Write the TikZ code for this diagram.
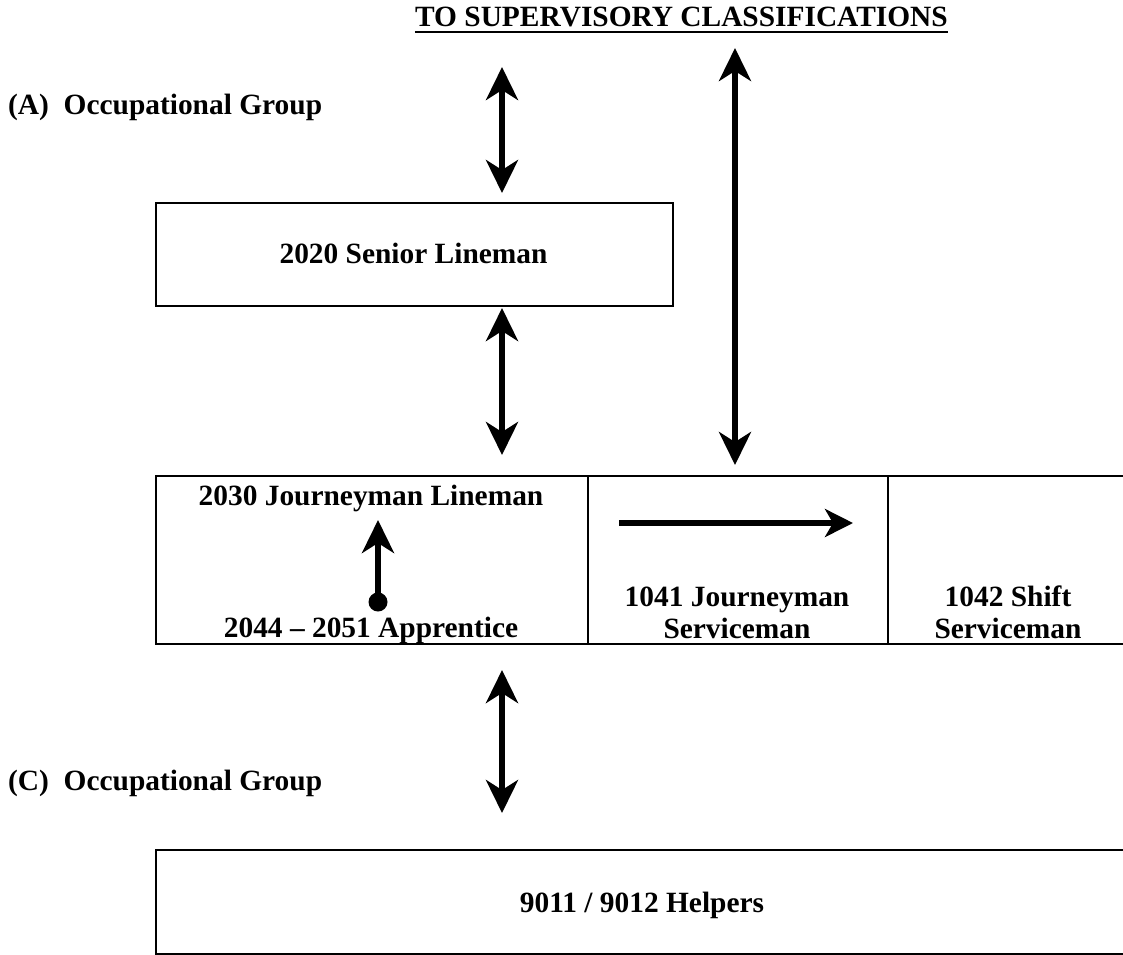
\documentclass[tikz,border=0pt]{standalone}
\usepackage{fontspec}
\setmainfont{Liberation Serif}
\usetikzlibrary{arrows.meta}
\begin{document}
\begin{tikzpicture}[x=1pt,y=-1pt,
  lbl/.style={font=\fontsize{29.4}{34}\selectfont\bfseries, inner sep=0pt, anchor=base},
  boxthick/.style={draw, line width=2pt, inner sep=0pt, anchor=north west},
  boxthin/.style={draw, line width=1.6pt, inner sep=0pt, anchor=north west},
  bighead/.tip={Stealth[length=33pt,width=32pt,inset=10pt]},
  smallhead/.tip={Stealth[length=28pt,width=28pt,inset=8pt]},
  dbl/.style={line width=5.5pt, bighead-bighead},
  sgl/.style={line width=5.5pt, -bighead},
]
\useasboundingbox (0,0) rectangle (1123,954);
\clip (0,0) rectangle (1123,954);

% title
\node[lbl] (title) at (681.5,26) {TO SUPERVISORY CLASSIFICATIONS};
\draw[line width=2.8pt] ([yshift=-6pt]title.base west) -- ([yshift=-6pt]title.base east);

% side labels
\node[lbl, anchor=base west] (grpA) at (8,114) {(A)\ \ Occupational Group};
\node[lbl, anchor=base west] (grpC) at (8,790) {(C)\ \ Occupational Group};

% boxes
\node[boxthick, minimum width=517pt, minimum height=103pt] (senior) at (155,202) {};
\node[lbl] (seniort) at (413.5,263) {2020 Senior Lineman};

\node[boxthin, minimum width=432pt, minimum height=168pt] (jl) at (155,475) {};
\node[boxthin, minimum width=300pt, minimum height=168pt] (js) at (587,475) {};
\node[boxthin, minimum width=260pt, minimum height=168pt] (ss) at (887,475) {};

\node[lbl] (jlt) at (371,505) {2030 Journeyman Lineman};
\node[lbl] (apt) at (371,637) {2044 -- 2051 Apprentice};
\node[lbl] (js1) at (737,606) {1041 Journeyman};
\node[lbl] (js2) at (737,638) {Serviceman};
\node[lbl] (ss1) at (1008,606) {1042 Shift};
\node[lbl] (ss2) at (1008,638) {Serviceman};

\node[boxthick, minimum width=1000pt, minimum height=104pt] (help) at (155,849) {};
\node[lbl] (helpt) at (642,912) {9011 / 9012 Helpers};

% connector end points
\coordinate (a1t) at (502,67);
\coordinate (a1b) at (502,193);
\coordinate (lt) at (735,48);
\coordinate (lb) at (735,465);
\coordinate (a2t) at (502,308);
\coordinate (a2b) at (502,455);
\coordinate (a3t) at (502,670);
\coordinate (a3b) at (502,813);
\coordinate (dot) at (378,602);
\coordinate (apt-tip) at (378,520);
\coordinate (rs) at (619,523);
\coordinate (re) at (853,523);

\draw[dbl] (a1t) -- (a1b);
\draw[dbl] (lt) -- (lb);
\draw[dbl] (a2t) -- (a2b);
\draw[dbl] (a3t) -- (a3b);
\draw[sgl] (dot) -- (apt-tip);
\fill (dot) circle (9.5pt);
\draw[line width=6pt, -smallhead] (rs) -- (re);
\end{tikzpicture}
\end{document}
